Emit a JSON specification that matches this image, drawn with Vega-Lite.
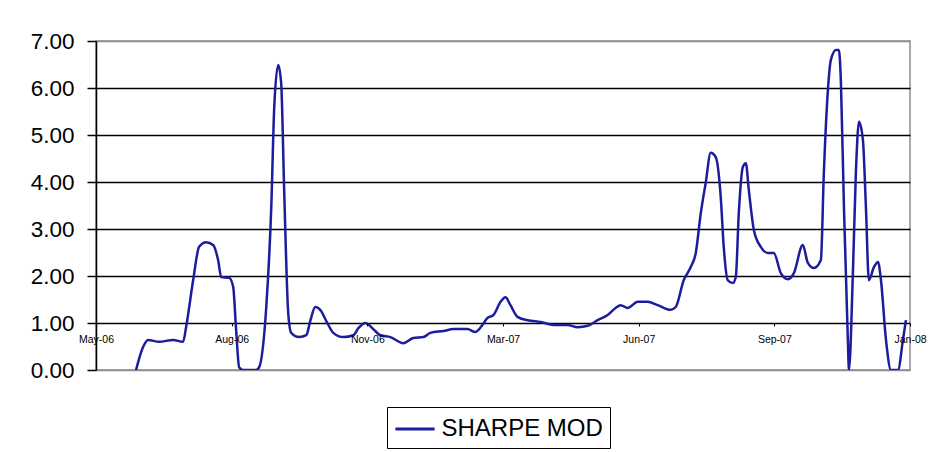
{
  "$schema": "https://vega.github.io/schema/vega-lite/v6.json",
  "width": 814,
  "height": 329,
  "autosize": {"type": "none"},
  "padding": {"left": 96, "top": 41, "right": 30, "bottom": 82},
  "background": "white",
  "config": {
    "view": {"stroke": "#8c8c8c", "strokeWidth": 1.5},
    "font": "Liberation Sans"
  },
  "data": {
    "values": [
      {"t": 0.295, "v": 0.0},
      {"t": 0.347, "v": 0.49},
      {"t": 0.384, "v": 0.64},
      {"t": 0.465, "v": 0.60},
      {"t": 0.568, "v": 0.64},
      {"t": 0.642, "v": 0.60},
      {"t": 0.664, "v": 0.91},
      {"t": 0.716, "v": 1.91},
      {"t": 0.760, "v": 2.62},
      {"t": 0.812, "v": 2.72},
      {"t": 0.863, "v": 2.66},
      {"t": 0.900, "v": 2.34},
      {"t": 0.923, "v": 1.98},
      {"t": 0.982, "v": 1.96},
      {"t": 1.011, "v": 1.77},
      {"t": 1.033, "v": 0.85},
      {"t": 1.055, "v": 0.06},
      {"t": 1.085, "v": 0.0},
      {"t": 1.181, "v": 0.0},
      {"t": 1.203, "v": 0.06},
      {"t": 1.255, "v": 1.34},
      {"t": 1.292, "v": 3.47},
      {"t": 1.314, "v": 5.6},
      {"t": 1.343, "v": 6.49},
      {"t": 1.365, "v": 6.1},
      {"t": 1.387, "v": 3.83},
      {"t": 1.417, "v": 1.21},
      {"t": 1.439, "v": 0.79},
      {"t": 1.498, "v": 0.70},
      {"t": 1.550, "v": 0.74},
      {"t": 1.580, "v": 1.05},
      {"t": 1.616, "v": 1.34},
      {"t": 1.653, "v": 1.28},
      {"t": 1.705, "v": 1.0},
      {"t": 1.749, "v": 0.79},
      {"t": 1.823, "v": 0.70},
      {"t": 1.897, "v": 0.74},
      {"t": 1.934, "v": 0.89},
      {"t": 1.985, "v": 1.0},
      {"t": 2.037, "v": 0.89},
      {"t": 2.096, "v": 0.74},
      {"t": 2.170, "v": 0.70},
      {"t": 2.266, "v": 0.57},
      {"t": 2.339, "v": 0.68},
      {"t": 2.413, "v": 0.70},
      {"t": 2.465, "v": 0.79},
      {"t": 2.561, "v": 0.83},
      {"t": 2.635, "v": 0.87},
      {"t": 2.738, "v": 0.87},
      {"t": 2.797, "v": 0.81},
      {"t": 2.849, "v": 0.96},
      {"t": 2.886, "v": 1.11},
      {"t": 2.930, "v": 1.17},
      {"t": 2.982, "v": 1.45},
      {"t": 3.018, "v": 1.55},
      {"t": 3.055, "v": 1.38},
      {"t": 3.107, "v": 1.13},
      {"t": 3.181, "v": 1.06},
      {"t": 3.277, "v": 1.02},
      {"t": 3.373, "v": 0.96},
      {"t": 3.476, "v": 0.96},
      {"t": 3.550, "v": 0.91},
      {"t": 3.624, "v": 0.94},
      {"t": 3.697, "v": 1.06},
      {"t": 3.771, "v": 1.17},
      {"t": 3.830, "v": 1.32},
      {"t": 3.867, "v": 1.38},
      {"t": 3.919, "v": 1.32},
      {"t": 3.993, "v": 1.45},
      {"t": 4.066, "v": 1.45},
      {"t": 4.140, "v": 1.38},
      {"t": 4.236, "v": 1.28},
      {"t": 4.273, "v": 1.34},
      {"t": 4.332, "v": 1.91},
      {"t": 4.384, "v": 2.19},
      {"t": 4.421, "v": 2.49},
      {"t": 4.458, "v": 3.34},
      {"t": 4.494, "v": 3.98},
      {"t": 4.531, "v": 4.62},
      {"t": 4.568, "v": 4.53},
      {"t": 4.605, "v": 3.68},
      {"t": 4.627, "v": 2.62},
      {"t": 4.657, "v": 1.91},
      {"t": 4.694, "v": 1.85},
      {"t": 4.716, "v": 1.98},
      {"t": 4.738, "v": 3.34},
      {"t": 4.768, "v": 4.32},
      {"t": 4.790, "v": 4.40},
      {"t": 4.812, "v": 3.83},
      {"t": 4.849, "v": 2.98},
      {"t": 4.900, "v": 2.62},
      {"t": 4.952, "v": 2.49},
      {"t": 4.996, "v": 2.49},
      {"t": 5.048, "v": 2.06},
      {"t": 5.100, "v": 1.93},
      {"t": 5.144, "v": 2.06},
      {"t": 5.210, "v": 2.66},
      {"t": 5.247, "v": 2.28},
      {"t": 5.292, "v": 2.17},
      {"t": 5.343, "v": 2.34},
      {"t": 5.365, "v": 4.19},
      {"t": 5.395, "v": 5.96},
      {"t": 5.417, "v": 6.60},
      {"t": 5.454, "v": 6.81},
      {"t": 5.476, "v": 6.81},
      {"t": 5.491, "v": 6.1},
      {"t": 5.513, "v": 3.47},
      {"t": 5.542, "v": 0.64},
      {"t": 5.550, "v": 0.0},
      {"t": 5.579, "v": 2.06},
      {"t": 5.601, "v": 4.19},
      {"t": 5.624, "v": 5.28},
      {"t": 5.653, "v": 4.89},
      {"t": 5.675, "v": 3.47},
      {"t": 5.697, "v": 1.91},
      {"t": 5.734, "v": 2.19},
      {"t": 5.764, "v": 2.30},
      {"t": 5.786, "v": 1.91},
      {"t": 5.823, "v": 0.64},
      {"t": 5.860, "v": 0.0},
      {"t": 5.911, "v": 0.0},
      {"t": 5.948, "v": 0.64},
      {"t": 5.970, "v": 1.06}
    ]
  },
  "transform": [{"calculate": "'SHARPE MOD'", "as": "series"}],
  "mark": {"type": "line", "interpolate": "monotone", "strokeWidth": 2.5, "clip": true},
  "encoding": {
    "x": {
      "field": "t",
      "type": "quantitative",
      "scale": {"domain": [0, 6], "nice": false, "zero": false},
      "axis": {
        "title": null,
        "values": [0, 1, 2, 3, 4, 5, 6],
        "labelExpr": "['May-06','Aug-06','Nov-06','Mar-07','Jun-07','Sep-07','Jan-08'][datum.value]",
        "offset": -47,
        "grid": false,
        "domain": false,
        "tickColor": "black",
        "tickSize": 3,
        "labelFontSize": 10.5,
        "labelColor": "black",
        "labelPadding": 8,
        "labelFont": "Liberation Sans",
        "labelFlush": false,
        "labelOverlap": false,
        "zindex": 1
      }
    },
    "y": {
      "field": "v",
      "type": "quantitative",
      "scale": {"domain": [0, 7], "nice": false},
      "axis": {
        "title": null,
        "values": [0, 1, 2, 3, 4, 5, 6, 7],
        "format": ".2f",
        "labelFontSize": 22.5,
        "labelColor": "black",
        "labelPadding": 13,
        "tickSize": 9,
        "tickColor": "black",
        "tickWidth": 1.5,
        "domainColor": "black",
        "domainWidth": 1.5,
        "grid": true,
        "gridColor": {"condition": {"test": "datum.value == 0 || datum.value == 7", "value": "#8c8c8c"}, "value": "black"},
        "gridWidth": 1.5,
        "gridOpacity": 1
      }
    },
    "color": {
      "field": "series",
      "type": "nominal",
      "scale": {"domain": ["SHARPE MOD"], "range": ["#1c1c9c"]},
      "legend": {
        "title": null,
        "orient": "none",
        "legendX": 291,
        "legendY": 366,
        "direction": "vertical",
        "symbolType": "M-1.4,0H1.4",
        "symbolSize": 784,
        "symbolStrokeWidth": 3,
        "symbolOffset": 6,
        "labelFontSize": 24,
        "labelLimit": 400,
        "labelColor": "black",
        "labelFont": "Liberation Sans",
        "strokeColor": "black",
        "padding": 6.5,
        "labelOffset": 11,
        "rowPadding": 0,
        "fillColor": "white"
      }
    }
  }
}
